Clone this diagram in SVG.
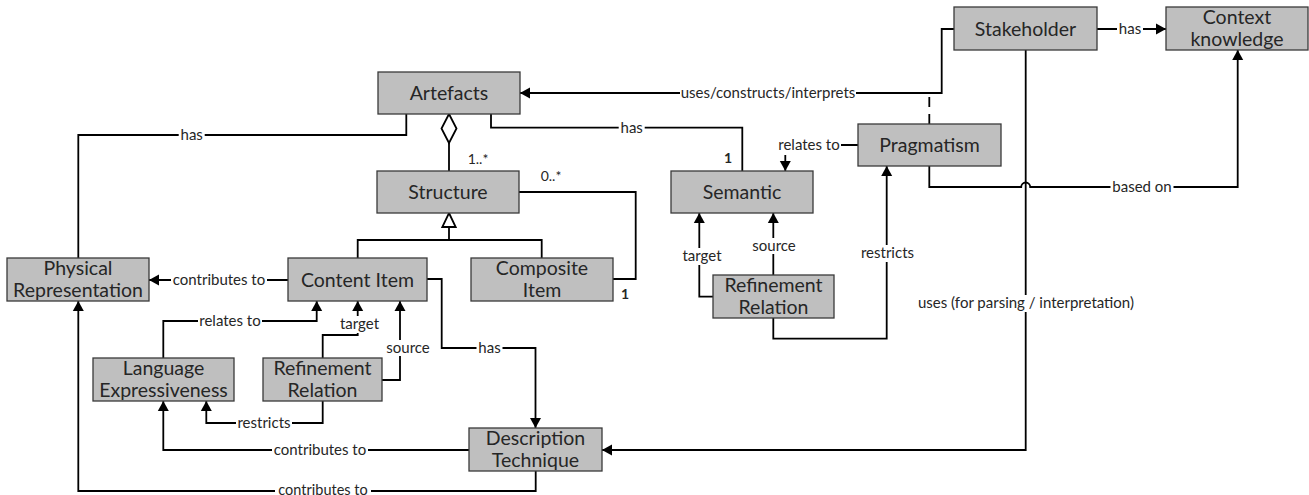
<svg xmlns="http://www.w3.org/2000/svg" width="1309" height="495" viewBox="0 0 1309 495">
<style>
.n rect{fill:#bfbfbf;stroke:#3a3a3a;stroke-width:1.3}
.n text{font-family:Lato,"Liberation Sans",sans-serif;font-size:19.5px;fill:#262626;text-anchor:middle}
.c path{fill:none;stroke:#000;stroke-width:1.8}
.c .a{marker-end:url(#arr)}
.c .d{stroke-dasharray:10 7}
.c polygon{fill:#fff;stroke:#000;stroke-width:1.8}
.l rect{fill:#fff}
.l text{font-family:Lato,"Liberation Sans",sans-serif;font-size:15px;fill:#262626;text-anchor:middle}
.l .m{font-size:14px}
.l .b{font-weight:bold}
</style>
<defs>
<marker id="arr" markerUnits="userSpaceOnUse" markerWidth="11" markerHeight="12" refX="10" refY="6" orient="auto">
<path d="M0,0.5 L10,6 L0,11.5 Z" fill="#000"/>
</marker>
</defs>
<rect width="1309" height="495" fill="#fff"/>
<g class="c" id="connectors">
<path d="M406.3,114 V135 H78.3 V258"/>
<polygon points="449,114 456.5,128.5 449,143 441.5,128.5"/>
<path d="M449,143 V171"/>
<path d="M491,114 V127.7 H742.3 V171"/>
<path class="a" d="M954,29 H941.7 V93 H520"/>
<path class="d" d="M929.3,124 V93"/>
<path class="a" d="M1097,29 H1166"/>
<path class="a" d="M929.3,166 V187 H1021.2 A4.5,4.5 0 0 1 1030.2,187 H1237.7 V50"/>
<path class="a" d="M1025.7,50 V450 H602"/>
<path class="a" d="M858,145 H785.3 V171"/>
<path class="a" d="M713,296.7 H699.3 V213"/>
<path class="a" d="M773.3,275 V213"/>
<path class="a" d="M773.3,318 V338.7 H886.7 V166"/>
<path d="M519,192 H635.7 V279 H613"/>
<polygon points="449,213 455.7,227 442.3,227"/>
<path d="M449,227 V240 M357.7,258 V240 H541.7 V258"/>
<path class="a" d="M288,280 H149"/>
<path class="a" d="M163.3,358 V321 H316.7 V301"/>
<path class="a" d="M322.7,358 V335 H357.7 V301"/>
<path class="a" d="M382,380 H400 V301"/>
<path class="a" d="M322.7,401 V423 H206.3 V401"/>
<path class="a" d="M427,279 H441.7 V348 H535.5 V428"/>
<path class="a" d="M469,450 H163.3 V401"/>
<path class="a" d="M535.7,471 V491 H78.3 V301"/>
</g>
<g class="l" id="labels">
<rect x="178.7" y="127" width="26" height="16"/><text x="191.7" y="140">has</text>
<rect x="618.7" y="120" width="26" height="16"/><text x="631.7" y="133">has</text>
<text class="m" x="478" y="164">1..*</text>
<text class="m b" x="728" y="163">1</text>
<text class="m" x="551" y="181">0..*</text>
<text class="m b" x="625" y="299">1</text>
<rect x="680" y="85" width="176" height="16"/><text x="768" y="98">uses/constructs/interprets</text>
<rect x="1117" y="21" width="26" height="16"/><text x="1130" y="34">has</text>
<rect x="1110.5" y="179" width="63" height="16"/><text x="1142" y="192">based on</text>
<rect x="916" y="295" width="220" height="17"/><text x="1026" y="308">uses (for parsing / interpretation)</text>
<rect x="777" y="137" width="64" height="18"/><text x="809" y="150">relates to</text>
<rect x="680.5" y="248" width="43" height="17"/><text x="702" y="261">target</text>
<rect x="750.5" y="238" width="47" height="16"/><text x="774" y="251">source</text>
<rect x="859.5" y="245" width="56" height="17"/><text x="887.5" y="258">restricts</text>
<rect x="171" y="272" width="96" height="16"/><text x="219" y="285">contributes to</text>
<rect x="198" y="313" width="64" height="16"/><text x="230" y="326">relates to</text>
<rect x="338" y="316" width="43" height="17"/><text x="359.5" y="329">target</text>
<rect x="384.5" y="340" width="47" height="16"/><text x="408" y="353">source</text>
<rect x="476.5" y="340" width="26" height="16"/><text x="489.5" y="353">has</text>
<rect x="236" y="415" width="56" height="17"/><text x="264" y="428">restricts</text>
<rect x="272" y="442" width="96" height="16"/><text x="320" y="455">contributes to</text>
<rect x="275" y="484" width="96" height="11"/><text x="323" y="494.5" style="font-size:14.5px">contributes to</text>
</g>
<g class="n" id="artefacts"><rect x="378" y="72" width="142" height="42"/><text x="449" y="100">Artefacts</text></g>
<g class="n" id="structure"><rect x="377" y="171" width="142" height="42"/><text x="448" y="199">Structure</text></g>
<g class="n" id="semantic"><rect x="671" y="171" width="142" height="42"/><text x="742" y="199">Semantic</text></g>
<g class="n" id="pragmatism"><rect x="858" y="124" width="143" height="42"/><text x="929.5" y="152">Pragmatism</text></g>
<g class="n" id="stakeholder"><rect x="954" y="7" width="143" height="43"/><text x="1025.5" y="35.5">Stakeholder</text></g>
<g class="n" id="context-knowledge"><rect x="1166" y="7" width="142" height="43"/><text x="1237" y="24">Context</text><text x="1237" y="46">knowledge</text></g>
<g class="n" id="physical-representation"><rect x="7" y="258" width="142" height="43"/><text x="78" y="275">Physical</text><text x="78" y="297">Representation</text></g>
<g class="n" id="content-item"><rect x="288" y="258" width="139" height="43"/><text x="357.5" y="286.5">Content Item</text></g>
<g class="n" id="composite-item"><rect x="471" y="258" width="142" height="43"/><text x="542" y="275">Composite</text><text x="542" y="297">Item</text></g>
<g class="n" id="language-expressiveness"><rect x="93" y="358" width="141" height="43"/><text x="163.5" y="375">Language</text><text x="163.5" y="397">Expressiveness</text></g>
<g class="n" id="refinement-relation-left"><rect x="263" y="358" width="119" height="43"/><text x="322.5" y="375">Refinement</text><text x="322.5" y="397">Relation</text></g>
<g class="n" id="refinement-relation-right"><rect x="713" y="275" width="121" height="43"/><text x="773.5" y="292">Refinement</text><text x="773.5" y="314">Relation</text></g>
<g class="n" id="description-technique"><rect x="469" y="428" width="133" height="43"/><text x="535.5" y="445">Description</text><text x="535.5" y="467">Technique</text></g>
</svg>
